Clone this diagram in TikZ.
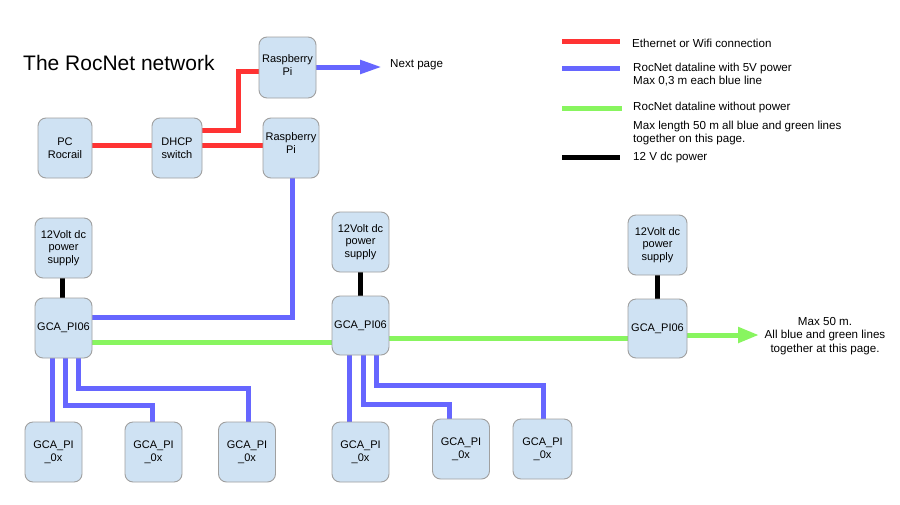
\documentclass[tikz,border=0pt]{standalone}
\usepackage{fontspec}
\setmainfont{Liberation Sans}
\usetikzlibrary{arrows.meta,backgrounds}
\definecolor{boxfill}{HTML}{CFE2F3}
\definecolor{boxline}{HTML}{A0A0A0}
\definecolor{ethred}{HTML}{FF3333}
\definecolor{pwrblue}{HTML}{6666FF}
\definecolor{datagreen}{HTML}{88F55F}
\begin{document}
\begin{tikzpicture}[x=1pt,y=-1pt,
  box/.style={draw=boxline, fill=boxfill, rounded corners=8pt, line width=0.9pt,
    align=center, inner sep=0pt, minimum width=57pt, minimum height=60pt,
    font=\fontsize{11}{12.5}\selectfont},
  eth/.style={draw=ethred, line width=5pt},
  pwr/.style={draw=pwrblue, line width=5pt},
  dat/.style={draw=datagreen, line width=5pt},
  dc/.style={draw=black, line width=5pt},
  txt/.style={inner sep=0pt, font=\fontsize{11.6}{13}\selectfont},
  ]
\useasboundingbox (0,0) rectangle (900,504);

% title
\node[anchor=west, inner sep=0pt, font=\fontsize{21}{25}\selectfont] (title) at (23,63) {The RocNet network};

% top boxes
\node[box, minimum width=54pt] (pc) at (65,148) {PC\\Rocrail};
\node[box, minimum width=50pt] (dhcp) at (177,148) {DHCP\\switch};
\node[box, minimum height=61pt] (rp1) at (287.5,67.5) {\raisebox{1pt}[\height][\depth]{\begin{tabular}{@{}c@{}}Raspberry\\Pi\end{tabular}}};
\node[box, minimum width=56pt] (rp2) at (291,148) {\raisebox{3.5pt}[\height][\depth]{\begin{tabular}{@{}c@{}}Raspberry\\Pi\end{tabular}}};

% power supplies and GCA_PI06
\node[box] (psu1) at (63.5,248) {12Volt dc\\power\\supply};
\node[box] (gca1) at (63.5,328) {GCA\_PI06};
\node[box] (psu2) at (360.5,242) {12Volt dc\\power\\supply};
\node[box, minimum height=59pt] (gca2) at (360.5,325.5) {GCA\_PI06};
\node[box, minimum width=59pt] (psu3) at (657.5,245) {12Volt dc\\power\\supply};
\node[box, minimum width=59pt, minimum height=59pt] (gca3) at (657.5,328.5) {GCA\_PI06};

% GCA_PI_0x
\node[box] (s1) at (53.5,452) {GCA\_PI\\\_0x};
\node[box] (s2) at (153.5,452) {GCA\_PI\\\_0x};
\node[box] (s3) at (247,452) {GCA\_PI\\\_0x};
\node[box] (s4) at (360.5,452) {GCA\_PI\\\_0x};
\node[box] (s5) at (461,449) {GCA\_PI\\\_0x};
\node[box, minimum width=59pt] (s6) at (542.5,449) {GCA\_PI\\\_0x};

% free ends and side texts
\coordinate (nextend) at (382,67);
\node[txt, anchor=west] (nexttext) at (390,65) {Next page};
\coordinate (maxend) at (759,335);
\node[txt, align=center, font=\fontsize{11.6}{13.5}\selectfont] (maxtext) at (825,336) {Max 50 m.\\All blue and green lines\\together at this page.};

% legend
\coordinate (l1a) at (562,41); \coordinate (l1b) at (620,41);
\coordinate (l2a) at (562,68); \coordinate (l2b) at (620,68);
\coordinate (l3a) at (562,108); \coordinate (l3b) at (622,108);
\coordinate (l4a) at (562,157); \coordinate (l4b) at (620,157);
\node[txt, anchor=west] (lt1) at (632,43) {Ethernet or Wifi connection};
\node[txt, anchor=west, align=left] (lt2) at (633,75) {RocNet dataline with 5V power\\Max 0,3 m each blue line};
\node[txt, anchor=west] (lt3) at (633,107) {RocNet dataline without power};
\node[txt, anchor=west, align=left] (lt4) at (633,132.5) {Max length 50 m all blue and green lines\\together on this page.};
\node[txt, anchor=west] (lt5) at (633,157) {12 V dc power};

\begin{scope}[on background layer]
\fill[white] (0,0) rectangle (900,504);
% legend lines
\draw[eth] (l1a) -- (l1b);
\draw[pwr] (l2a) -- (l2b);
\draw[dat] (l3a) -- (l3b);
\draw[dc] (l4a) -- (l4b);
% ethernet
\draw[eth] ([yshift=3pt]pc.east) -- ([yshift=3pt]dhcp.west);
\draw[eth] ([yshift=3pt]dhcp.east) -- ([yshift=3pt]rp2.west);
\draw[eth] ([yshift=18pt]dhcp.east) -| ([xshift=-20pt,yshift=-3.5pt]rp1.west) -- ([yshift=-3.5pt]rp1.west);
% blue
\draw[pwr, -{Triangle[length=22pt,width=13pt]}] ([yshift=0.5pt]rp1.east) -- (nextend);
\draw[pwr] ([xshift=1pt]rp2.south) |- ([yshift=11pt]gca1.east);
% green
\draw[dat] ([yshift=-14pt]gca1.east) coordinate (g1) -- (g1 -| gca2.west);
\draw[dat] ([yshift=-12.5pt]gca2.east) coordinate (g2) -- (g2 -| gca3.west);
\draw[dat, -{Triangle[length=21pt,width=15pt]}] ([yshift=-6.5pt]gca3.east) -- (maxend);
% 12 V
\draw[dc] ([xshift=-1pt]psu1.south) -- ([xshift=-1pt]gca1.north);
\draw[dc] (psu2.south) -- (gca2.north);
\draw[dc] (psu3.south) -- (gca3.north);
% blue down to GCA_PI_0x
\draw[pwr] ([xshift=-11.5pt]gca1.south) coordinate (b1) -- (b1 |- s1.north);
\draw[pwr] ([xshift=1.5pt]gca1.south) -- ++(0,47) -| ([xshift=-1.5pt]s2.north);
\draw[pwr] ([xshift=14.5pt]gca1.south) -- ++(0,30) -| ([xshift=1pt]s3.north);
\draw[pwr] ([xshift=-11.5pt]gca2.south) coordinate (b4) -- (b4 |- s4.north);
\draw[pwr] ([xshift=2.5pt]gca2.south) -- ++(0,49) -| ([xshift=-12pt]s5.north);
\draw[pwr] ([xshift=15.5pt]gca2.south) -- ++(0,30) -| ([xshift=0.5pt]s6.north);
\end{scope}
\end{tikzpicture}
\end{document}
